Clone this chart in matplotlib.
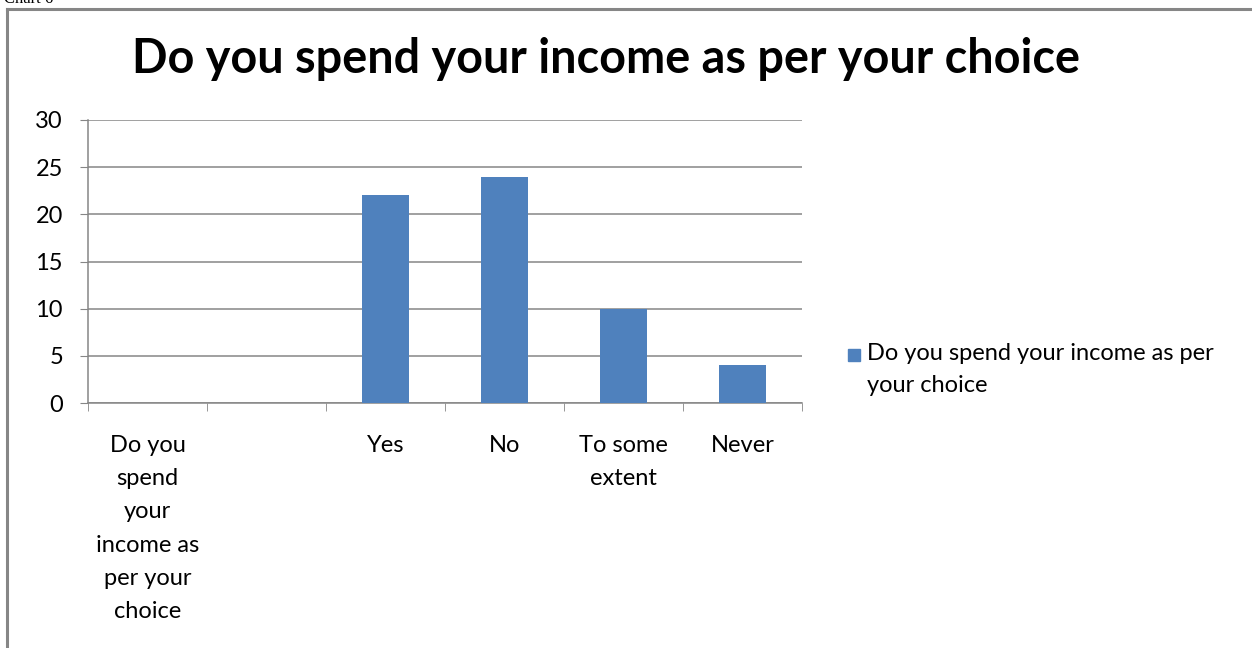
import matplotlib
matplotlib.use("Agg")
import matplotlib.pyplot as plt
from matplotlib.lines import Line2D
from matplotlib.patches import Rectangle
import numpy as np

categories = ["Do you\nspend\nyour\nincome as\nper your\nchoice", "", "Yes", "No", "To some\nextent", "Never"]
values = [0, 0, 22, 24, 10, 4]
series_name = "Do you spend your income as per your choice"
legend_label = "Do you spend your income as per\nyour choice"
yticks = [0, 5, 10, 15, 20, 25, 30]

bar_color = "#4F81BD"
grid_color = "#868686"

plt.rcParams['font.family'] = ['Lato', 'DejaVu Sans']

W, H = 1252, 648
fig = plt.figure(figsize=(W / 100, H / 100), dpi=100)
ax = fig.add_axes([88 / W, 1 - 403 / H, (802 - 88) / W, (403 - 120) / H])

x = np.arange(len(categories))
ax.bar(x, values, width=0.4, color=bar_color, zorder=3)

ax.set_xlim(-0.5, len(categories) - 0.5)
ax.set_ylim(0, 30)
ax.set_yticks(yticks)
ax.tick_params(axis='y', length=6, color=grid_color, labelsize=17, pad=12)
ax.yaxis.grid(True, color=grid_color, linewidth=1.1, zorder=0)

# category labels in the middle, tick marks between categories
ax.set_xticks(x)
ax.set_xticklabels(categories, fontsize=17, linespacing=1.72, va='top')
ax.tick_params(axis='x', which='major', length=0, pad=23)
ax.set_xticks(np.arange(len(categories) + 1) - 0.5, minor=True)
ax.tick_params(axis='x', which='minor', length=6, color=grid_color)

for side in ("top", "right"):
    ax.spines[side].set_visible(False)
for side in ("left", "bottom"):
    ax.spines[side].set_color(grid_color)
    ax.spines[side].set_linewidth(1.1)

fig.suptitle(series_name, x=0.484, y=1 - 59 / H, va='center',
             fontsize=33.7, fontweight='bold')

# legend: square key next to the first line of the wrapped label
fig.add_artist(Rectangle((848 / W, 1 - 361 / H), 12 / W, 12 / H, color=bar_color,
                         transform=fig.transFigure))
fig.text(867 / W, 1 - 343 / H, legend_label, fontsize=17, va='top', ha='left', linespacing=1.62)

# frame around the chart area (left and top edges)
fig.add_artist(Line2D([7 / W, 7 / W], [0, 1 - 9 / H], color=grid_color, linewidth=2.2,
                      transform=fig.transFigure))
fig.add_artist(Line2D([7 / W, 1], [1 - 9 / H, 1 - 9 / H], color=grid_color, linewidth=2.2,
                      transform=fig.transFigure))

fig.text(0.003, 1 - 3 / H, "Chart 6", fontsize=12, family='Liberation Serif', va='baseline')

fig.savefig("out.png", dpi=100)
